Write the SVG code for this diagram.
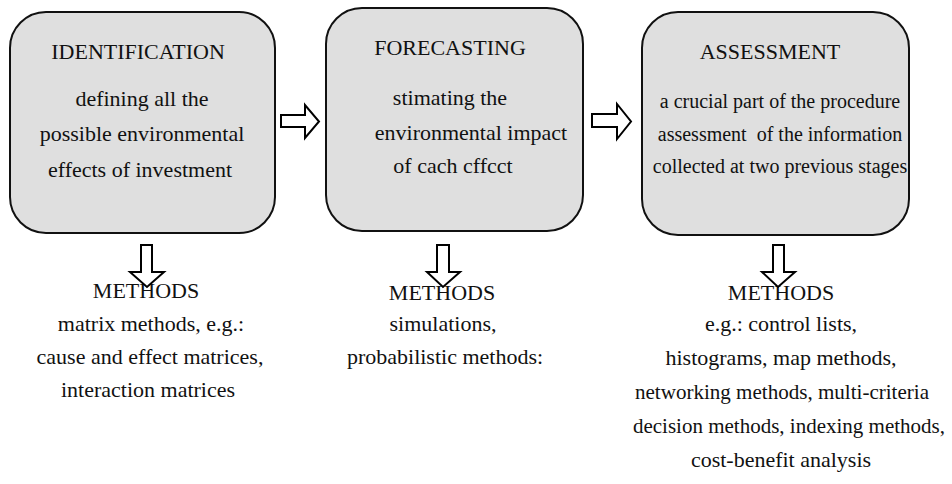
<svg xmlns="http://www.w3.org/2000/svg" width="952" height="484" viewBox="0 0 952 484">
<style>
.box{fill:#dfdfdf;stroke:#111;stroke-width:2}
.arr{fill:#fff;stroke:#000;stroke-width:2;stroke-linejoin:miter}
text{font-family:"Liberation Serif","Times New Roman",serif;font-size:22px;fill:#111;text-anchor:middle}
.s20{font-size:20px}
.s21{font-size:21px}
</style>
<rect width="952" height="484" fill="#fff"/>
<g id="identification">
<rect class="box" x="10" y="12" width="265" height="221" rx="36"/>
<text x="138" y="59">IDENTIFICATION</text>
<text x="142" y="106">defining all the</text>
<text x="142" y="141">possible environmental</text>
<text x="140" y="177">effects of investment</text>
</g>
<g id="forecasting">
<rect class="box" x="326" y="8" width="257" height="223" rx="36"/>
<text x="450" y="55">FORECASTING</text>
<text x="450" y="105">stimating the</text>
<text x="471" y="140">environmental impact</text>
<text x="453" y="173">of cach cffcct</text>
</g>
<g id="assessment">
<rect class="box" x="642" y="12" width="267" height="223" rx="36"/>
<text x="770" y="59">ASSESSMENT</text>
<text class="s20" x="780" y="108">a crucial part of the procedure</text>
<text class="s20" x="780" y="141" xml:space="preserve">assessment  of the information</text>
<text class="s20" x="780" y="173">collected at two previous stages</text>
</g>
<g id="methods1">
<text x="146" y="298">METHODS</text>
<text x="151" y="331">matrix methods, e.g.:</text>
<text x="150" y="364">cause and effect matrices,</text>
<text x="148" y="397">interaction matrices</text>
</g>
<g id="methods2">
<text x="442" y="300">METHODS</text>
<text x="443" y="331">simulations,</text>
<text x="445" y="364">probabilistic methods:</text>
</g>
<g id="methods3">
<text x="781" y="300">METHODS</text>
<text x="781" y="331">e.g.: control lists,</text>
<text x="781" y="365">histograms, map methods,</text>
<text x="782" y="399" textLength="294" lengthAdjust="spacingAndGlyphs">networking methods, multi-criteria</text>
<text class="s21" x="789" y="433">decision methods, indexing methods,</text>
<text x="781" y="467">cost-benefit analysis</text>
</g>
<g id="connectors">
<polygon class="arr" points="281,115 305,115 305,105 319,121.5 305,138 305,127 281,127"/>
<polygon class="arr" points="592,114 617,114 617,104 631,121.5 617,139 617,127 592,127"/>
<polygon class="arr" points="141,245 152,245 152,272 164,272 147,287 130,272 141,272"/>
<polygon class="arr" points="437,245 449,245 449,272 460,272 443,287 427,272 437,272"/>
<polygon class="arr" points="773,245 784,245 784,272 795,272 778,287 762,272 773,272"/>
</g>
</svg>
